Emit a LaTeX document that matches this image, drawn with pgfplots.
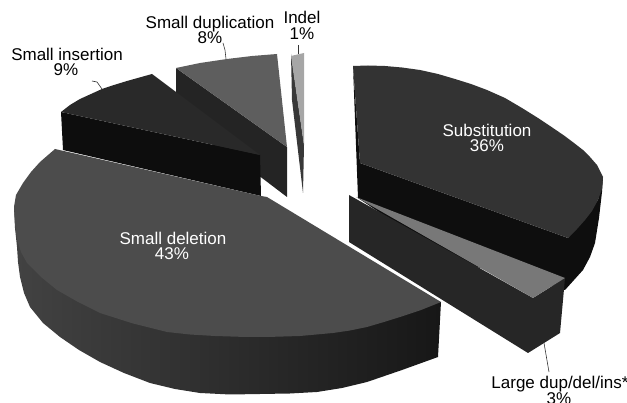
\documentclass[border=0pt]{standalone}
\usepackage{fontspec}
\setmainfont{Liberation Sans}
\usepackage{pgfplots}
\pgfplotsset{compat=1.18}
\definecolor{delTop}{gray}{0.30}
\definecolor{delSideL}{gray}{0.26}
\definecolor{delSideM}{gray}{0.14}
\definecolor{delSideR}{gray}{0.09}
\definecolor{subTop}{gray}{0.20}
\definecolor{subSide}{gray}{0.055}
\definecolor{insTop}{gray}{0.16}
\definecolor{insSide}{gray}{0.05}
\definecolor{dupTop}{gray}{0.37}
\definecolor{dupSide}{gray}{0.14}
\definecolor{indTop}{gray}{0.65}
\definecolor{indSide}{gray}{0.22}
\definecolor{larTop}{gray}{0.47}
\definecolor{larSide}{gray}{0.15}
\tikzset{lab/.style={font=\fontsize{17}{17}\selectfont, inner sep=0pt, anchor=base}}
\begin{document}
\begin{tikzpicture}
\begin{axis}[
  scale only axis, width=627pt, height=403pt,
  xmin=0, xmax=627, ymin=0, ymax=403, y dir=reverse,
  axis lines=none, clip=true,
  every axis plot/.append style={no markers, draw=none, line join=round},
]
% Small duplication
\addplot[fill=dupSide] coordinates {(176,68)(287,147)(287,197)(262,178)(176,120)};
\addplot[fill=dupTop] coordinates {(176,68)(200,63)(227,59)(252,56)(277,54)(287,147)};
% Small insertion
\addplot[fill=insSide] coordinates {(61,112)(260,155)(261,196)(63,150)};
\addplot[fill=insTop] coordinates {(61,112)(70,105)(80,99)(91,94)(102,89)(114,85)(127,81)(152,74)(260,155)};
% Indel
\addplot[fill=indSide] coordinates {(291,54)(304,145)(303,193)(292,100)};
\addplot[fill=indTop] coordinates {(291,56)(304,53)(304,145)};
% Substitution
\addplot[fill=subSide] coordinates {(353,66)(360,163)(568,238)(598,200)(603,177)(602,192)(599,218)(595,243)(590,257)(583,270)(565,290)(450,260)(358,198)};
\addplot[fill=subTop] coordinates {(353,66)(368,65.5)(385,66)(402,67.5)(420,70)(438,74)(455,79)(471,84)(487,90)(505,98)(522,108)(538,118)(553,128)(564,135.5)(574,143)(583,150)(590,157)(597,165)(603,177)(602,189)(598,200)(592,211)(585,220)(577,229)(568,238)(360,163)};
% Large dup/del/ins*
\addplot[fill=larSide] coordinates {(349,195)(533,298)(565,278)(560,333)(528,353)(349,242)};
\addplot[fill=larTop] coordinates {(356,197)(565,278)(533,298)};
% Small deletion
\addplot[left color=delSideL, middle color=delSideM, right color=delSideR] coordinates {(14,207)(15,228)(17,247)(18,262)(20,277)(24,293)(30,307)(43,323)(60,337)(79,350)(100,362)(124,373)(150,383)(175,389)(200,393)(230,394.5)(260,394)(290,393.5)(317,392)(342,388)(367,382)(402,370)(438,357)(441,302)(320,320)};
\addplot[fill=delTop] coordinates {(55,149)(261,196)(267,197)(320,229)(441,302)(421,310)(400,317)(384,322)(367,327)(350,330.5)(333,333)(300,336)(267,337)(240,336.8)(215,336)(190,334.5)(167,332)(133,323.5)(100,313)(78,302)(57,290)(41,277)(27,263)(21,252)(17,240)(15,224)(14,207)(16,195)(23,183)(31,172)(40,162)};
% Leader lines
\addplot[draw=black!80, line width=0.6pt] coordinates {(223,43)(225,50)(226,59)};
\addplot[draw=black!80, line width=0.6pt] coordinates {(92,81)(97,82)(102,89)};
\addplot[draw=black!80, line width=0.6pt] coordinates {(298,45)(298,54)};
\addplot[draw=black!80, line width=0.6pt] coordinates {(544,343)(549,372)};
% Labels
\node[lab] at (axis cs:210,29) {Small duplication};
\node[lab] at (axis cs:210,44) {8\%};
\node[lab] at (axis cs:67,61) {Small insertion};
\node[lab] at (axis cs:66,76) {9\%};
\node[lab] at (axis cs:302,24) {Indel};
\node[lab] at (axis cs:302,40) {1\%};
\node[lab, white] at (axis cs:487,137) {Substitution};
\node[lab, white] at (axis cs:487,152) {36\%};
\node[lab, white] at (axis cs:173,245) {Small deletion};
\node[lab, white] at (axis cs:172,260) {43\%};
\node[lab] at (axis cs:560,389) {Large dup/del/ins*};
\node[lab] at (axis cs:559,405) {3\%};
\end{axis}
\pgfresetboundingbox
\path[use as bounding box] (0,0) rectangle (627pt,403pt);
\end{tikzpicture}
\end{document}
